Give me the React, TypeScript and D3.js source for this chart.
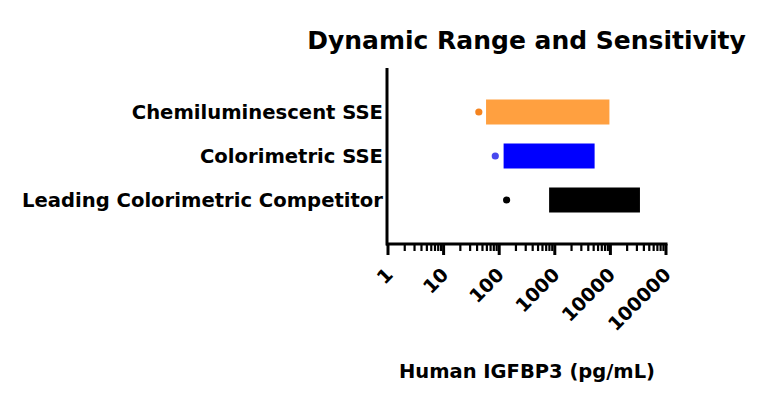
import React from 'react'
import * as d3 from 'd3'

// assays, top to bottom
const assays = ['Chemiluminescent SSE', 'Colorimetric SSE', 'Leading Colorimetric Competitor']
// dynamic range (pg/mL)
const rangeLow = [58, 120, 790]
const rangeHigh = [9600, 5200, 34000]
// sensitivity (pg/mL)
const sensitivity = [43, 85, 136]
const barColors = ['#FFA040', '#0000FF', '#000000']
const dotColors = ['#F5841F', '#4848EE', '#000000']
const tickValues = [1, 10, 100, 1000, 10000, 100000]

const FONT = '"DejaVu Sans", sans-serif'

const App: React.FC = () => {
  const width = 768
  const height = 405

  const x = d3.scaleLog().domain([1, 100000]).range([388, 666])
  const y = d3.scalePoint<string>().domain(assays).range([68, 244]).padding(1)
  const barH = 25
  const axisY = 244

  const minorTicks: number[] = []
  for (let d = 1; d < 100000; d *= 10) {
    for (let k = 2; k <= 9; k++) minorTicks.push(d * k)
  }

  return (
    <svg width={width} height={height} style={{ position: 'absolute', left: 0, top: 0 }}>
      <rect width={width} height={height} fill="#fff" />
      <text x={526.5} y={49} textAnchor="middle" fontFamily={FONT} fontWeight="bold" fontSize={25}>
        Dynamic Range and Sensitivity
      </text>

      {assays.map((a, i) => {
        const cy = y(a) as number
        return (
          <g key={a}>
            <rect
              x={x(rangeLow[i])}
              y={cy - barH / 2}
              width={x(rangeHigh[i]) - x(rangeLow[i])}
              height={barH}
              fill={barColors[i]}
            />
            <circle cx={x(sensitivity[i])} cy={cy} r={3.6} fill={dotColors[i]} />
            <text x={383} y={cy} dy="0.36em" textAnchor="end" fontFamily={FONT} fontWeight="bold" fontSize={19.6}>
              {a}
            </text>
          </g>
        )
      })}

      {/* axes */}
      <line x1={387} x2={387} y1={68} y2={axisY + 1.5} stroke="#000" strokeWidth={3} />
      <line x1={386} x2={667.5} y1={axisY} y2={axisY} stroke="#000" strokeWidth={3} />
      {minorTicks.map((t) => (
        <line key={t} x1={x(t)} x2={x(t)} y1={axisY} y2={axisY + 7} stroke="#000" strokeWidth={2.2} />
      ))}
      {tickValues.map((t) => (
        <g key={t}>
          <line x1={x(t)} x2={x(t)} y1={axisY} y2={axisY + 11} stroke="#000" strokeWidth={3} />
          <text
            transform={`translate(${x(t) + 6},${276}) rotate(-45)`}
            textAnchor="end"
            fontFamily={FONT}
            fontWeight="bold"
            fontSize={19}
          >
            {t}
          </text>
        </g>
      ))}

      <text x={527} y={378} textAnchor="middle" fontFamily={FONT} fontWeight="bold" fontSize={19.5}>
        Human IGFBP3 (pg/mL)
      </text>
    </svg>
  )
}

export default App
